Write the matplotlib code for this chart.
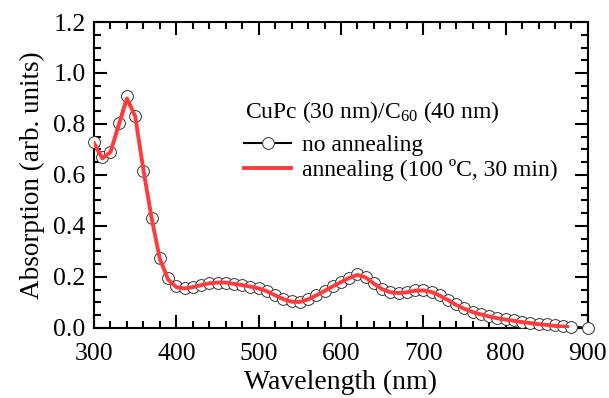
import matplotlib
matplotlib.use('Agg')
import matplotlib.pyplot as plt
from matplotlib.ticker import MultipleLocator

plt.rcParams['font.family'] = ['Liberation Serif', 'DejaVu Serif']
plt.rcParams['mathtext.fontset'] = 'custom'
plt.rcParams['mathtext.rm'] = 'Liberation Serif'
plt.rcParams['mathtext.it'] = 'Liberation Serif:italic'

# no annealing (open circles)
wl_raw = [300, 310, 320, 330, 340, 350, 360, 370, 380, 390,
          400, 410, 420, 430, 440, 450, 460, 470, 480, 490,
          500, 510, 520, 530, 540, 550, 560, 570, 580, 590,
          600, 610, 620, 630, 640, 650, 660, 670, 680, 690,
          700, 710, 720, 730, 740, 750, 760, 770, 780, 790,
          800, 810, 820, 830, 840, 850, 860, 870, 880, 900]
abs_raw = [0.73, 0.67, 0.69, 0.805, 0.91, 0.83, 0.615, 0.43, 0.275, 0.195,
           0.163, 0.155, 0.16, 0.168, 0.175, 0.178, 0.178, 0.173, 0.168, 0.162,
           0.156, 0.145, 0.13, 0.115, 0.105, 0.103, 0.112, 0.128, 0.145, 0.163,
           0.18, 0.197, 0.21, 0.2, 0.175, 0.152, 0.14, 0.137, 0.14, 0.147,
           0.148, 0.142, 0.128, 0.11, 0.092, 0.077, 0.064, 0.055, 0.047, 0.04,
           0.035, 0.03, 0.025, 0.021, 0.017, 0.014, 0.01, 0.006, 0.005, 0.0]

# annealing 100 C, 30 min (red line)
wl_ann = [300, 310, 320, 330, 340, 350, 360, 370, 380, 390,
          400, 410, 420, 430, 440, 450, 460, 470, 480, 490,
          500, 510, 520, 530, 540, 550, 560, 570, 580, 590,
          600, 610, 620, 630, 640, 650, 660, 670, 680, 690,
          700, 710, 720, 730, 740, 750, 760, 770, 780, 790,
          800, 810, 820, 830, 840, 850, 860, 875]
abs_ann = [0.725, 0.665, 0.69, 0.795, 0.9, 0.83, 0.62, 0.43, 0.27, 0.19,
           0.16, 0.155, 0.16, 0.168, 0.175, 0.178, 0.178, 0.173, 0.168, 0.162,
           0.155, 0.144, 0.128, 0.113, 0.103, 0.102, 0.112, 0.128, 0.145, 0.163,
           0.18, 0.196, 0.208, 0.198, 0.174, 0.152, 0.14, 0.137, 0.14, 0.146,
           0.147, 0.141, 0.127, 0.109, 0.09, 0.075, 0.062, 0.053, 0.045, 0.038,
           0.033, 0.028, 0.023, 0.019, 0.015, 0.012, 0.008, 0.004]

fig = plt.figure(figsize=(6.09, 3.98), dpi=100)
ax = fig.add_axes([0.1544, 0.176, 0.811, 0.7687])

ax.plot(wl_raw, abs_raw, color='black', lw=1.5, marker='o', ms=8.5,
        mfc='white', mec='#333333', mew=0.7, label='no annealing',
        clip_on=False, zorder=3)
ax.plot(wl_ann, abs_ann, color='#ff3b3b', lw=2.8, label='annealing (100 ºC, 30 min)',
        zorder=4)

ax.set_xlim(300, 900)
ax.set_ylim(0, 1.2)
ax.xaxis.set_major_locator(MultipleLocator(100))
ax.xaxis.set_minor_locator(MultipleLocator(20))
ax.yaxis.set_major_locator(MultipleLocator(0.2))
ax.yaxis.set_minor_locator(MultipleLocator(0.05))
ax.yaxis.set_major_formatter(plt.FuncFormatter(lambda v, p: '%.1f' % v))
ax.tick_params(which='both', direction='in', top=True, right=True, width=1.5,
               labelsize=18.5)
ax.tick_params(axis='x', pad=11)
ax.tick_params(axis='y', pad=6)
ax.tick_params(which='major', length=9.5)
ax.tick_params(which='minor', length=5)
for s in ax.spines.values():
    s.set_linewidth(1.5)

ax.set_xlabel('Wavelength (nm)', fontsize=20, labelpad=3)
ax.set_ylabel('Absorption (arb. units)', fontsize=19.5, labelpad=6)

ax.text(0.306, 0.705, 'CuPc (30 nm)/C$_{60}$ (40 nm)', transform=ax.transAxes,
        fontsize=17, ha='left', va='center')
leg = ax.legend(loc='center left', bbox_to_anchor=(0.304, 0.556),
                frameon=False, fontsize=17, handlelength=2.0,
                handletextpad=0.45, labelspacing=0.12, borderpad=0.0,
                borderaxespad=0.0)

fig.savefig('out.png', dpi=100)
